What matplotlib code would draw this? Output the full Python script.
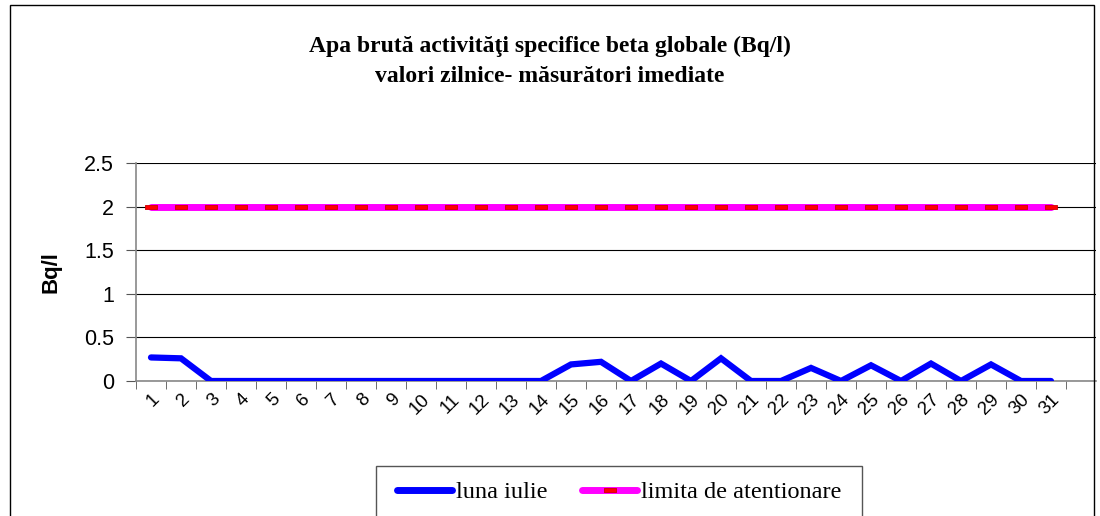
import matplotlib
matplotlib.use("Agg")
import matplotlib.pyplot as plt
import matplotlib.patches as patches
from matplotlib.lines import Line2D

# Data
days = list(range(1, 32))
day_labels = [str(d) for d in days]
luna_iulie = [0.27, 0.26, 0, 0, 0, 0, 0, 0, 0, 0, 0, 0, 0, 0, 0.19, 0.22,
              0, 0.20, 0, 0.26, 0, 0, 0.15, 0, 0.18, 0, 0.20, 0, 0.19, 0, 0]
limita = [2.0] * 31

C_BLUE = "#0000FF"
C_MAGENTA = "#FF00FF"
C_RED = "#FF0000"

fig = plt.figure(figsize=(11, 5.16), dpi=100)
fig.patch.set_facecolor("white")

# outer chart border (bottom runs off the picture)
fig.add_artist(patches.Rectangle((10 / 1100, -0.05), 1084 / 1100, 1 - 5 / 516 + 0.05,
                                 transform=fig.transFigure, fill=False,
                                 edgecolor="black", linewidth=1))

ax = fig.add_axes([136 / 1100, 1 - 381 / 516, 960 / 1100, 218 / 516])

# red dash markers on the limit line
dash = [(-1, -0.33), (1, -0.33), (1, 0.33), (-1, 0.33), (-1, -0.33)]

ax.plot(days, limita, color=C_MAGENTA, linewidth=5, solid_capstyle="round",
        marker=dash, markersize=9, markerfacecolor=C_RED,
        markeredgecolor="#CC0000", markeredgewidth=0.6, zorder=3)
ax.plot(days, luna_iulie, color=C_BLUE, linewidth=4.5,
        solid_capstyle="round", solid_joinstyle="miter", zorder=4)

ax.set_xlim(0.5, 32.5)
ax.set_ylim(0, 2.5)
ax.set_yticks([0, 0.5, 1, 1.5, 2, 2.5])
ax.set_yticklabels(["0", "0.5", "1", "1.5", "2", "2.5"],
                   fontfamily="Liberation Sans", fontsize=15.5)
ax.yaxis.grid(True, color="black", linewidth=0.8)
ax.set_axisbelow(True)

ax.set_xticks(days)
ax.set_xticklabels(day_labels, fontfamily="Liberation Sans", fontsize=13.5,
                   rotation=45, ha="right", va="top", rotation_mode="anchor")
ax.set_xticks([i + 0.5 for i in range(0, 32)], minor=True)
ax.tick_params(axis="x", which="major", length=0, pad=7)
ax.tick_params(axis="x", which="minor", length=6, color="#555555", direction="out")
ax.tick_params(axis="y", length=7, color="#555555", pad=9)

for side in ["top", "right"]:
    ax.spines[side].set_visible(False)
ax.spines["left"].set_color("#888888")
ax.spines["bottom"].set_color("#888888")
ax.spines["left"].set_linewidth(1.2)
ax.spines["bottom"].set_linewidth(1.2)

ax.set_ylabel("Bq/l", fontfamily="Liberation Sans", fontsize=16,
              fontweight="bold", labelpad=16)

fig.text(0.5, 1 - 46 / 516, "Apa brută activităţi specifice beta globale (Bq/l)",
         ha="center", va="center", fontfamily="Liberation Serif",
         fontsize=17, fontweight="bold")
fig.text(0.5, 1 - 76 / 516, "valori zilnice- măsurători imediate",
         ha="center", va="center", fontfamily="Liberation Serif",
         fontsize=17, fontweight="bold")

# legend box (runs off the bottom edge like the original)
fig.add_artist(patches.Rectangle((376 / 1100, -0.05), 486 / 1100, 1 - 466 / 516 + 0.05,
                                 transform=fig.transFigure, fill=True,
                                 facecolor="white", edgecolor="#555555",
                                 linewidth=1))

handles = [
    Line2D([], [], color=C_BLUE, linewidth=5, solid_capstyle="round"),
    Line2D([], [], color=C_MAGENTA, linewidth=5, solid_capstyle="round",
           marker=dash, markersize=9, markerfacecolor=C_RED,
           markeredgecolor="#CC0000", markeredgewidth=0.6, markevery=[1]),
]
leg = fig.legend(handles, ["luna iulie", "limita de atentionare"],
                 loc="center", bbox_to_anchor=(619 / 1100, 1 - 492 / 516),
                 ncol=2, frameon=False, handlelength=2.3,
                 handletextpad=0.15, columnspacing=1.4, borderpad=0.45,
                 borderaxespad=0,
                 prop={"family": "Liberation Serif", "size": 17.5})

plt.savefig("out.png", dpi=100, facecolor=fig.get_facecolor())
plt.close()
